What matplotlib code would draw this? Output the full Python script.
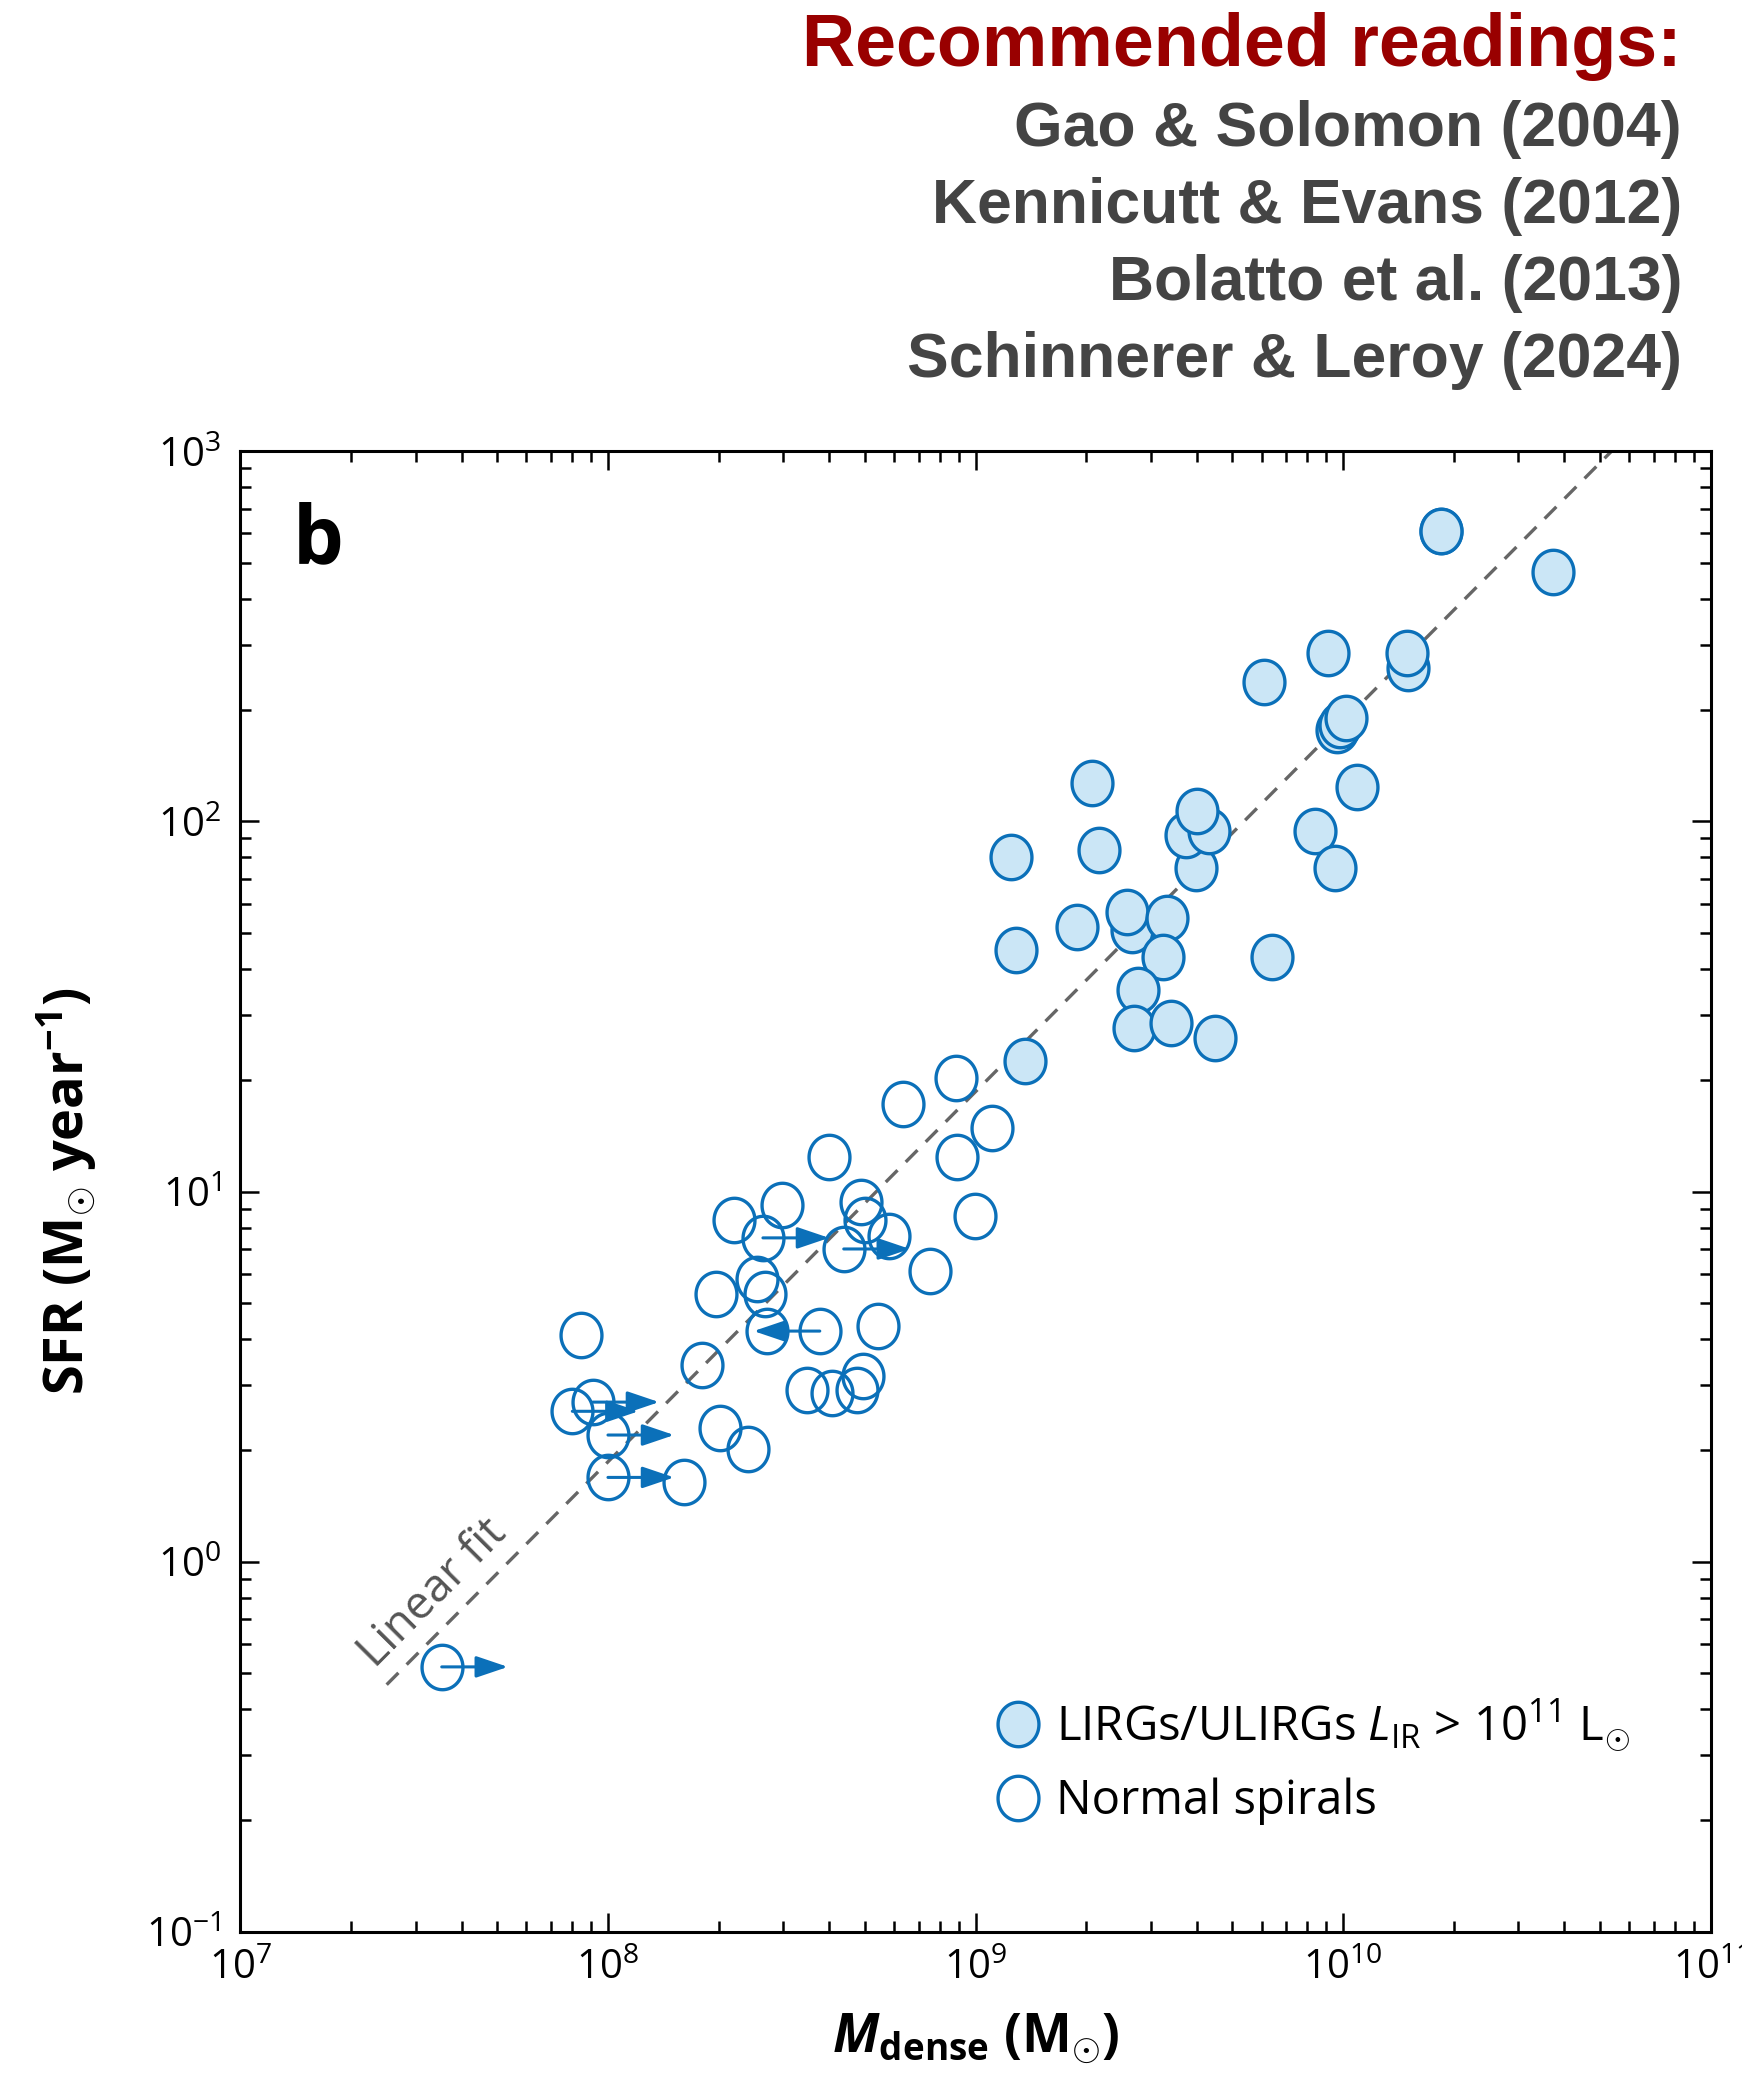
import numpy as np
import matplotlib
matplotlib.use("Agg")
import matplotlib.pyplot as plt
from matplotlib.path import Path

# ---------------- data ----------------
lirg_mdense = [1.85e10, 3.72e10, 9.1e9, 1.5e10, 1.49e10, 6.1e9, 9.6e9, 9.8e9, 1.02e10,
               2.07e9, 1.09e10, 3.98e9, 3.73e9, 4.33e9, 4.0e9, 1.25e9, 2.17e9, 8.4e9,
               9.5e9, 1.29e9, 1.89e9, 2.66e9, 2.59e9, 3.32e9, 3.24e9, 6.4e9, 2.77e9,
               2.70e9, 3.4e9, 4.48e9, 1.36e9]
lirg_sfr = [610, 472, 285, 260, 285, 238, 177, 182, 190,
            127, 124, 75, 92, 94, 107, 80, 84, 94,
            75, 45, 52, 51, 57, 55, 43, 43, 35,
            27.7, 28.5, 26, 22.6]

spiral_mdense = [6.35e8, 8.87e8, 1.11e9, 8.93e8, 3.99e8, 9.96e8, 4.88e8, 5.0e8, 5.8e8, 4.38e8,
                 2.97e8, 2.2e8, 2.64e8, 7.5e8, 2.55e8, 2.68e8, 1.97e8, 2.70e8, 3.77e8, 5.43e8,
                 8.45e7, 1.8e8, 3.47e8, 4.06e8, 4.75e8, 4.95e8, 9.1e7, 8.0e7, 1.0e8, 2.02e8,
                 2.4e8, 1.0e8, 1.61e8, 3.53e7]
spiral_sfr = [17.2, 20.3, 14.9, 12.4, 12.4, 8.6, 9.4, 8.4, 7.6, 7.0,
              9.2, 8.4, 7.5, 6.1, 5.8, 5.3, 5.3, 4.2, 4.2, 4.33,
              4.1, 3.4, 2.91, 2.86, 2.91, 3.18, 2.7, 2.55, 2.2, 2.3,
              2.02, 1.69, 1.64, 0.52]
# +1 = lower limit on M_dense (arrow right), -1 = upper limit (arrow left)
spiral_limit = [0, 0, 0, 0, 0, 0, 0, 0, 0, 1,
                0, 0, 1, 0, 0, 0, 0, 0, -1, 0,
                0, 0, 0, 0, 0, 0, 1, 1, 1, 0,
                0, 1, 0, 1]

fit_log_norm = -7.73          # log10(SFR) = log10(M_dense) + fit_log_norm
fit_mdense_range = [2.5e7, 1e11]
fit_label_pos = (3.52e7, 0.779)

x_ticks = [1e7, 1e8, 1e9, 1e10, 1e11]
x_ticklabels = [r"$10^{7}$", r"$10^{8}$", r"$10^{9}$", r"$10^{10}$", r"$10^{11}$"]
y_ticks = [1e-1, 1e0, 1e1, 1e2, 1e3]
y_ticklabels = [r"$10^{-1}$", r"$10^{0}$", r"$10^{1}$", r"$10^{2}$", r"$10^{3}$"]

readings_title = "Recommended readings:"
readings = ["Gao & Solomon (2004)", "Kennicutt & Evans (2012)",
            "Bolatto et al. (2013)", "Schinnerer & Leroy (2024)"]

# ---------------- style ----------------
plt.rcParams["font.family"] = ["Open Sans", "DejaVu Sans"]
plt.rcParams["mathtext.fontset"] = "custom"
plt.rcParams["mathtext.rm"] = "Open Sans"
plt.rcParams["mathtext.it"] = "Open Sans:italic"
plt.rcParams["mathtext.bf"] = "Open Sans:bold"
plt.rcParams["mathtext.bfit"] = "Open Sans:italic:bold"

EDGE = "#0b70b9"
FILL = "#cbe6f6"
ARROW_DEX = 0.18
MS = 32
MEW = 2.4

# elliptical (slightly tall) circle marker
t = np.linspace(0, 2 * np.pi, 100)
ell = Path(np.column_stack([0.46 * np.cos(t), 0.5 * np.sin(t)]), closed=True)

fig = plt.figure(figsize=(17.42, 20.8), dpi=100)
ax = fig.add_axes([0.138, 0.0712, 0.844, 0.7118])
ax.set_xscale("log")
ax.set_yscale("log")
ax.set_xlim(1e7, 1e11)
ax.set_ylim(1e-1, 1e3)

# linear fit
fx = np.array(fit_mdense_range)
ax.plot(fx, fx * 10 ** fit_log_norm, color="#666666", lw=2.4, dashes=(5.0, 3.5), zorder=1)
ax.text(fit_label_pos[0], fit_label_pos[1], "Linear fit", rotation=45.2, ha="center",
        va="baseline", fontsize=33, color="#555555", rotation_mode="anchor")

# normal spirals
ax.plot(spiral_mdense, spiral_sfr, ls="none", marker=ell, ms=MS, mfc="none",
        mec=EDGE, mew=MEW, zorder=2, label="Normal spirals")
for xv, yv, lim in zip(spiral_mdense, spiral_sfr, spiral_limit):
    if lim != 0:
        ax.annotate("", xy=(xv * 10 ** (lim * ARROW_DEX), yv), xytext=(xv, yv),
                    arrowprops=dict(arrowstyle="-|>,head_length=0.65,head_width=0.22",
                                    color=EDGE, lw=2.2, mutation_scale=30,
                                    shrinkA=0, shrinkB=0), zorder=3)

# LIRGs / ULIRGs
ax.plot(lirg_mdense[0], lirg_sfr[0], ls="none", marker=ell, ms=MS, mfc=FILL,
        mec=EDGE, mew=MEW, label=r"LIRGs/ULIRGs $L_{\mathrm{IR}}$ > 10$^{11}$ L$_{\odot}$")
for xv, yv in zip(lirg_mdense, lirg_sfr):
    ax.plot([xv], [yv], ls="none", marker=ell, ms=MS, mfc=FILL, mec=EDGE, mew=MEW, zorder=4)

# axes styling
for sp in ax.spines.values():
    sp.set_linewidth(2.2)
ax.tick_params(which="both", direction="in", top=True, right=True, width=1.8, color="black")
ax.tick_params(which="major", length=14, labelsize=29)
ax.tick_params(which="minor", length=8)
ax.tick_params(axis="y", which="major", pad=14)
ax.tick_params(axis="x", which="major", pad=12)
ax.set_xticks(x_ticks)
ax.set_xticklabels(x_ticklabels)
ax.set_yticks(y_ticks)
ax.set_yticklabels(y_ticklabels)
ax.xaxis.set_minor_locator(matplotlib.ticker.LogLocator(base=10, subs=np.arange(2, 10)))
ax.yaxis.set_minor_locator(matplotlib.ticker.LogLocator(base=10, subs=np.arange(2, 10)))
ax.xaxis.set_minor_formatter(matplotlib.ticker.NullFormatter())
ax.yaxis.set_minor_formatter(matplotlib.ticker.NullFormatter())

ax.set_ylabel(r"SFR (M$_{\mathbf{\odot}}$ year$^{\mathbf{-1}}$)", fontsize=39, fontweight="bold")
ax.yaxis.set_label_coords(-0.096, 0.5)
ax.set_xlabel(r"$\mathbfit{M}_{\mathbf{dense}}$ (M$_{\mathbf{\odot}}$)", fontsize=38, fontweight="bold")
ax.xaxis.set_label_coords(0.5, -0.054)

ax.text(0.053, 0.939, "b", transform=ax.transAxes, fontsize=58, fontweight="bold",
        ha="center", va="center")

# legend
handles, labels = ax.get_legend_handles_labels()
order = [1, 0]
leg = ax.legend([handles[i] for i in order], [labels[i] for i in order],
                loc="center left", bbox_to_anchor=(0.513, 0.1155), frameon=False,
                fontsize=34, handlelength=1.0, handletextpad=0.3, labelspacing=0.52,
                borderpad=0, borderaxespad=0)

# header text
fig.text(0.9656, 0.9683, readings_title, ha="right", va="baseline", fontsize=53,
         fontweight="bold", color="#990000", family=["Liberation Sans", "DejaVu Sans"])
for i, txt in enumerate(readings):
    fig.text(0.9656, 0.9298 - i * 0.0370, txt, ha="right", va="baseline", fontsize=45,
             fontweight="bold", color="#444444", family=["Liberation Sans", "DejaVu Sans"])

fig.savefig("out.png", dpi=100)
